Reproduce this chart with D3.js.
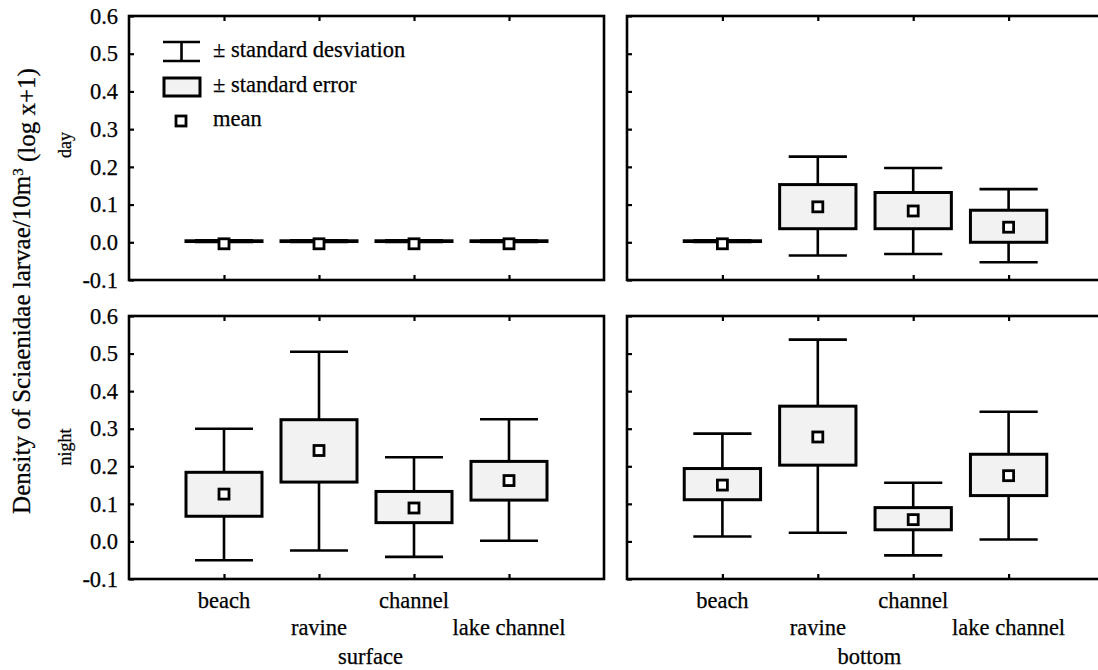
<!DOCTYPE html>
<html>
<head>
<meta charset="utf-8">
<script src="https://cdn.jsdelivr.net/npm/d3@7"></script>
<style>
  html, body { margin: 0; padding: 0; background: #fff; }
  svg { display: block; }
  svg text { font-family: "Liberation Serif", "Tinos", "DejaVu Serif", serif !important; fill: #000; stroke: #000; stroke-width: 0.25px; }
</style>
</head>
<body>
<svg id="chart" width="1098" height="670"></svg>
<script>
// ---------- data ----------
const categories = ["beach", "ravine", "channel", "lake channel"];
const yTicks = [-0.1, 0.0, 0.1, 0.2, 0.3, 0.4, 0.5, 0.6];
const rowLabels = ["day", "night"];
const colLabels = ["surface", "bottom"];

// surface / day
const surfaceDayMean   = [-0.004, -0.004, -0.004, -0.004];
const surfaceDaySeLow  = [0.002, 0.002, 0.002, 0.002];
const surfaceDaySeHigh = [0.004, 0.004, 0.004, 0.004];
const surfaceDaySdLow  = [0.001, 0.001, 0.001, 0.001];
const surfaceDaySdHigh = [0.005, 0.005, 0.005, 0.005];

// bottom / day
const bottomDayMean   = [-0.004, 0.094, 0.083, 0.040];
const bottomDaySeLow  = [0.002, 0.036, 0.036, 0.000];
const bottomDaySeHigh = [0.004, 0.153, 0.132, 0.085];
const bottomDaySdLow  = [0.001, -0.035, -0.031, -0.053];
const bottomDaySdHigh = [0.005, 0.227, 0.197, 0.141];

// surface / night
const surfaceNightMean   = [0.126, 0.242, 0.089, 0.162];
const surfaceNightSeLow  = [0.067, 0.158, 0.050, 0.110];
const surfaceNightSeHigh = [0.184, 0.324, 0.133, 0.213];
const surfaceNightSdLow  = [-0.050, -0.024, -0.041, 0.002];
const surfaceNightSdHigh = [0.300, 0.505, 0.224, 0.325];

// bottom / night
const bottomNightMean   = [0.150, 0.278, 0.058, 0.175];
const bottomNightSeLow  = [0.111, 0.203, 0.031, 0.122];
const bottomNightSeHigh = [0.194, 0.360, 0.090, 0.232];
const bottomNightSdLow  = [0.013, 0.023, -0.037, 0.005];
const bottomNightSdHigh = [0.287, 0.537, 0.156, 0.345];

function rows(mean, seLo, seHi, sdLo, sdHi) {
  return categories.map((c, i) => ({cat: c, mean: mean[i], seLo: seLo[i], seHi: seHi[i], sdLo: sdLo[i], sdHi: sdHi[i]}));
}

const panels = [
  {row: 0, col: 0, data: rows(surfaceDayMean, surfaceDaySeLow, surfaceDaySeHigh, surfaceDaySdLow, surfaceDaySdHigh)},
  {row: 0, col: 1, data: rows(bottomDayMean, bottomDaySeLow, bottomDaySeHigh, bottomDaySdLow, bottomDaySdHigh)},
  {row: 1, col: 0, data: rows(surfaceNightMean, surfaceNightSeLow, surfaceNightSeHigh, surfaceNightSdLow, surfaceNightSdHigh)},
  {row: 1, col: 1, data: rows(bottomNightMean, bottomNightSeLow, bottomNightSeHigh, bottomNightSdLow, bottomNightSdHigh)}
];

// ---------- layout ----------
const colX = [[129, 604], [627, 1104]];
const rowY = [[16, 280], [316, 579]];
const FILL = "#f2f2f2";
const FONT = 22.5;
const FF = '"Liberation Serif", "Tinos", "DejaVu Serif", serif';
const LW = 2.6;

const svg = d3.select("#chart");

panels.forEach(p => {
  const [x0, x1] = colX[p.col];
  const [y0, y1] = rowY[p.row];
  const x = d3.scalePoint().domain(categories).range([x0, x1]).padding(1);
  const y = d3.scaleLinear().domain([-0.1, 0.6]).range([y1, y0]);
  const step = x.step();
  const boxW = step * 0.8;
  const capW = step * 0.61;
  const g = svg.append("g");

  const yAxis = d3.axisLeft(y).tickValues(yTicks).tickSizeInner(-5).tickSizeOuter(0).tickPadding(11)
    .tickFormat(p.col === 0 ? (d => d.toFixed(1)) : "");
  const ya = g.append("g").attr("transform", `translate(${x0},0)`).call(yAxis);
  ya.attr("font-family", FF).attr("font-size", FONT);
  ya.select(".domain").remove();
  ya.selectAll("line").attr("stroke", "#000").attr("stroke-width", 2.2);
  ya.selectAll("text").attr("fill", "#000");

  const xb = g.append("g").attr("transform", `translate(0,${y1})`)
    .call(d3.axisBottom(x).tickSizeInner(-5).tickSizeOuter(0).tickFormat(""));
  xb.select(".domain").remove();
  xb.selectAll("line").attr("stroke", "#000").attr("stroke-width", 2.2);
  const xt = g.append("g").attr("transform", `translate(0,${y0})`)
    .call(d3.axisTop(x).tickSizeInner(-5).tickSizeOuter(0).tickFormat(""));
  xt.select(".domain").remove();
  xt.selectAll("line").attr("stroke", "#000").attr("stroke-width", 2.2);

  g.append("rect").attr("x", x0).attr("y", y0).attr("width", x1 - x0).attr("height", y1 - y0)
    .attr("fill", "none").attr("stroke", "#000").attr("stroke-width", 2.6);

  const items = g.selectAll(".item").data(p.data).enter().append("g");
  items.append("line")
    .attr("x1", d => x(d.cat)).attr("x2", d => x(d.cat))
    .attr("y1", d => y(d.sdLo)).attr("y2", d => y(d.sdHi))
    .attr("stroke", "#000").attr("stroke-width", LW);
  items.append("line")
    .attr("x1", d => x(d.cat) - capW / 2).attr("x2", d => x(d.cat) + capW / 2)
    .attr("y1", d => y(d.sdHi)).attr("y2", d => y(d.sdHi))
    .attr("stroke", "#000").attr("stroke-width", LW);
  items.append("line")
    .attr("x1", d => x(d.cat) - capW / 2).attr("x2", d => x(d.cat) + capW / 2)
    .attr("y1", d => y(d.sdLo)).attr("y2", d => y(d.sdLo))
    .attr("stroke", "#000").attr("stroke-width", LW);
  items.append("rect")
    .attr("x", d => x(d.cat) - boxW / 2).attr("width", boxW)
    .attr("y", d => y(d.seHi)).attr("height", d => Math.max(0, y(d.seLo) - y(d.seHi)))
    .attr("fill", FILL).attr("stroke", "#000").attr("stroke-width", 3);
  items.append("rect")
    .attr("x", d => x(d.cat) - 5).attr("y", d => y(d.mean) - 5)
    .attr("width", 10).attr("height", 10)
    .attr("fill", "#fff").attr("stroke", "#000").attr("stroke-width", 2.8);

  if (p.row === 1) {
    g.selectAll(".cl").data(categories).enter().append("text")
      .attr("x", d => x(d)).attr("y", (d, i) => i % 2 === 0 ? 608 : 635)
      .attr("text-anchor", "middle").attr("font-family", FF).attr("font-size", FONT)
      .text(d => d);
    g.append("text").attr("x", (x0 + x1) / 2 + 4).attr("y", 664)
      .attr("text-anchor", "middle").attr("font-family", FF).attr("font-size", FONT)
      .text(colLabels[p.col]);
  }
});

rowLabels.forEach((lab, i) => {
  const cy = i === 0 ? 145 : 447;
  svg.append("text").attr("transform", `translate(71,${cy}) rotate(-90)`)
    .attr("text-anchor", "middle").attr("font-family", FF).attr("font-size", 18).text(lab);
});

const yt = svg.append("text").attr("transform", "translate(30,291) rotate(-90)")
  .attr("text-anchor", "middle").attr("font-family", FF).attr("font-size", 25);
yt.append("tspan").text("Density of Sciaenidae larvae/10m");
yt.append("tspan").attr("dy", "-0.45em").attr("font-size", 15).text("3");
yt.append("tspan").attr("dy", "0.45em").text(" (log x+1)");

const lg = svg.append("g");
lg.append("line").attr("x1", 163).attr("x2", 200).attr("y1", 42).attr("y2", 42).attr("stroke", "#000").attr("stroke-width", LW);
lg.append("line").attr("x1", 163).attr("x2", 200).attr("y1", 61).attr("y2", 61).attr("stroke", "#000").attr("stroke-width", LW);
lg.append("line").attr("x1", 181.5).attr("x2", 181.5).attr("y1", 42).attr("y2", 61).attr("stroke", "#000").attr("stroke-width", LW);
lg.append("rect").attr("x", 164).attr("y", 78).attr("width", 36).attr("height", 18)
  .attr("fill", FILL).attr("stroke", "#000").attr("stroke-width", 3);
lg.append("rect").attr("x", 176).attr("y", 116).attr("width", 10).attr("height", 10)
  .attr("fill", "#fff").attr("stroke", "#000").attr("stroke-width", 2.8);
const legendTexts = ["± standard desviation", "± standard error", "mean"];
const legendY = [57, 92, 126];
legendTexts.forEach((t, i) => {
  lg.append("text").attr("x", 213).attr("y", legendY[i]).attr("font-family", FF).attr("font-size", FONT).text(t);
});
</script>
</body>
</html>
